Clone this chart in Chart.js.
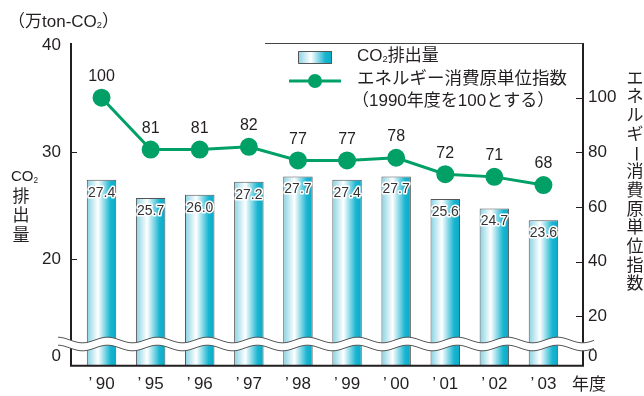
<!DOCTYPE html>
<html>
<head>
<meta charset="utf-8">
<script src="https://cdn.jsdelivr.net/npm/chart.js@4.4.0/dist/chart.umd.min.js"></script>
<style>
  html, body { margin: 0; padding: 0; background: #fff; }
  canvas { display: block; }
</style>
</head>
<body>
<canvas id="chart" width="644" height="396"></canvas>
<script>
// data
const years = ['’\u200990', '’\u200995', '’\u200996', '’\u200997', '’\u200998', '’\u200999', '’\u200900', '’\u200901', '’\u200902', '’\u200903'];
const co2 = [27.4, 25.7, 26.0, 27.2, 27.7, 27.4, 27.7, 25.6, 24.7, 23.6];
const energyIndex = [100, 81, 81, 82, 77, 77, 78, 72, 71, 68];
const co2Ticks = [0, 20, 30, 40];
const indexTicks = [0, 20, 40, 60, 80, 100];

// both axes are cut: "0" is drawn just under the break, above the axis floor
const co2Min = 10, co2Max = 40, co2ZeroAt = 10.93;
const idxMin = 1.8, idxMax = 119.3, idxZeroAt = 5.4;
const BAR_PCT = 0.6;

const FONT = '"Liberation Sans", "Noto Sans CJK JP", sans-serif';
const INK = '#231f20';
const GREEN = '#00a066';

Chart.defaults.font.family = FONT;
Chart.defaults.color = INK;

function barGradient(ctx, x0, x1) {
  const g = ctx.createLinearGradient(x0, 0, x1, 0);
  g.addColorStop(0, '#86d2e3');
  g.addColorStop(0.38, '#ffffff');
  g.addColorStop(0.8, '#19b5d1');
  g.addColorStop(1, '#08aac8');
  return g;
}

// each bar gets its own horizontal gradient
function barFill(c) {
  const ch = c.chart;
  if (!ch.chartArea || !ch.scales.x) return '#5cc6dc';
  const x = ch.scales.x.getPixelForValue(c.dataIndex);
  const w = ch.chartArea.width / years.length * BAR_PCT;
  return barGradient(ch.ctx, x - w / 2, x + w / 2);
}

// text with a small lowered "2" etc.
function drawParts(ctx, parts, x, y, size) {
  ctx.textAlign = 'left';
  ctx.textBaseline = 'middle';
  parts.forEach(p => {
    if (p.sub) {
      ctx.font = (size * 0.55) + 'px ' + FONT;
      ctx.fillText(p.t, x, y + size * 0.22);
    } else {
      ctx.font = size + 'px ' + FONT;
      ctx.fillText(p.t, x, y);
    }
    x += ctx.measureText(p.t).width;
  });
}

function drawVertical(ctx, chars, x, y, step, size) {
  ctx.font = size + 'px ' + FONT;
  ctx.textAlign = 'center';
  ctx.textBaseline = 'middle';
  chars.forEach((c, i) => {
    const cy = y + i * step;
    if (c === 'ー') {
      ctx.save();
      ctx.translate(x, cy);
      ctx.rotate(Math.PI / 2);
      ctx.fillText(c, 0, 0);
      ctx.restore();
    } else {
      ctx.fillText(c, x, cy);
    }
  });
}

function wave(x0, x1, y, amp, period, reverse) {
  const pts = [];
  for (let x = x0; x <= x1; x++) pts.push([x, y + amp * Math.sin((x - 20) / period * 2 * Math.PI)]);
  if (reverse) pts.reverse();
  return pts;
}

const decor = {
  id: 'decor',
  afterDatasetsDraw(chart) {
    const ctx = chart.ctx;
    const area = chart.chartArea;
    const yL = chart.scales.y, yR = chart.scales.y1;
    const axL = area.left - 6, axR = area.right + 15, top = 43, floor = area.bottom;

    // axis frame
    ctx.save();
    ctx.strokeStyle = INK;
    ctx.lineWidth = 2;
    ctx.beginPath();
    ctx.moveTo(axL, top); ctx.lineTo(axL, floor); ctx.lineTo(axR, floor); ctx.lineTo(axR, top);
    ctx.stroke();
    ctx.lineWidth = 1;
    ctx.strokeStyle = '#444';
    ctx.beginPath();
    ctx.moveTo(265, top + 0.5); ctx.lineTo(axR, top + 0.5);
    ctx.stroke();

    // inward tick marks
    ctx.strokeStyle = INK;
    ctx.lineWidth = 1.2;
    ctx.beginPath();
    [20, 30].forEach(v => {
      const y = Math.round(yL.getPixelForValue(v)) + 0.5;
      ctx.moveTo(axL, y); ctx.lineTo(axL + 6, y);
    });
    [20, 40, 60, 80, 100].forEach(v => {
      const y = Math.round(yR.getPixelForValue(v)) + 0.5;
      ctx.moveTo(axR - 7, y); ctx.lineTo(axR, y);
    });
    ctx.stroke();

    // axis break band
    const a = wave(58, 594, 340, 2.8, 50, false);
    const b = wave(58, 594, 348, 2.8, 50, true);
    ctx.fillStyle = '#fff';
    ctx.beginPath();
    a.concat(b).forEach((p, i) => i ? ctx.lineTo(p[0], p[1]) : ctx.moveTo(p[0], p[1]));
    ctx.closePath();
    ctx.fill();
    ctx.strokeStyle = '#555';
    ctx.lineWidth = 1;
    [a, b].forEach(line => {
      ctx.beginPath();
      line.forEach((p, i) => i ? ctx.lineTo(p[0], p[1]) : ctx.moveTo(p[0], p[1]));
      ctx.stroke();
    });

    // value labels on bars
    ctx.font = '14px ' + FONT;
    ctx.textAlign = 'center';
    ctx.textBaseline = 'middle';
    ctx.lineJoin = 'round';
    chart.getDatasetMeta(0).data.forEach((bar, i) => {
      const txt = co2[i].toFixed(1);
      ctx.strokeStyle = '#fff';
      ctx.lineWidth = 3;
      ctx.strokeText(txt, bar.x, bar.y + 13);
      ctx.fillStyle = '#333';
      ctx.fillText(txt, bar.x, bar.y + 13);
    });

    // index labels above points
    ctx.font = '16px ' + FONT;
    ctx.fillStyle = INK;
    chart.getDatasetMeta(1).data.forEach((pt, i) => {
      ctx.fillText(String(energyIndex[i]), pt.x, pt.y - 21);
    });

    // titles
    ctx.fillStyle = INK;
    drawParts(ctx, [{t: '（万ton-CO'}, {t: '2', sub: true}, {t: '）'}], 8, 22, 17);
    drawParts(ctx, [{t: 'CO'}, {t: '2', sub: true}], 11, 177, 15);
    drawVertical(ctx, ['排', '出', '量'], 21, 197, 19.5, 17);
    drawVertical(ctx, 'エネルギー消費原単位指数'.split(''), 635, 79, 18.7, 17);
    ctx.font = '17px ' + FONT;
    ctx.textAlign = 'left';
    ctx.fillText('年度', 572, 385);

    // legend
    ctx.fillStyle = barGradient(ctx, 298, 332);
    ctx.fillRect(298, 51, 34, 13);
    ctx.strokeStyle = '#555';
    ctx.lineWidth = 1;
    ctx.strokeRect(298.5, 51.5, 33, 12);
    ctx.strokeStyle = GREEN;
    ctx.lineWidth = 3;
    ctx.beginPath();
    ctx.moveTo(289, 81); ctx.lineTo(341, 81);
    ctx.stroke();
    ctx.fillStyle = GREEN;
    ctx.beginPath();
    ctx.arc(315, 81, 7, 0, Math.PI * 2);
    ctx.fill();
    ctx.fillStyle = INK;
    drawParts(ctx, [{t: 'CO'}, {t: '2', sub: true}, {t: '排出量'}], 357, 56, 17);
    drawParts(ctx, [{t: 'エネルギー消費原単位指数'}], 357, 79, 17.5);
    drawParts(ctx, [{t: '（1990年度を100とする）'}], 352, 101, 17);
    ctx.restore();
  }
};

new Chart(document.getElementById('chart'), {
  data: {
    labels: years,
    datasets: [
      {
        type: 'bar',
        label: 'CO2排出量',
        data: co2,
        yAxisID: 'y',
        borderColor: '#555',
        borderWidth: 1,
        borderSkipped: 'bottom',
        backgroundColor: barFill,
        categoryPercentage: 1,
        barPercentage: BAR_PCT,
        order: 2
      },
      {
        type: 'line',
        label: 'エネルギー消費原単位指数',
        data: energyIndex,
        yAxisID: 'y1',
        borderColor: GREEN,
        borderWidth: 3,
        backgroundColor: GREEN,
        pointBackgroundColor: GREEN,
        pointBorderColor: GREEN,
        pointRadius: 7.5,
        tension: 0,
        order: 1
      }
    ]
  },
  options: {
    responsive: false,
    animation: false,
    devicePixelRatio: 1,
    layout: { padding: { top: 45, left: 0, right: 0, bottom: 0 } },
    plugins: {
      legend: { display: false },
      tooltip: { enabled: false }
    },
    scales: {
      x: {
        grid: { display: false },
        border: { display: false },
        ticks: { font: { size: 17 }, color: INK, padding: 0, maxRotation: 0 },
        afterFit(s) { s.height = 28; }
      },
      y: {
        position: 'left',
        min: co2Min,
        max: co2Max,
        grid: { display: false, drawTicks: false },
        border: { display: false },
        afterBuildTicks(s) { s.ticks = co2Ticks.map(v => ({ value: v === 0 ? co2ZeroAt : v })); },
        ticks: {
          font: { size: 17 }, color: INK, padding: 16,
          callback: (v, i) => String(co2Ticks[i])
        },
        afterFit(s) { s.width = 77; }
      },
      y1: {
        position: 'right',
        min: idxMin,
        max: idxMax,
        grid: { display: false, drawTicks: false },
        border: { display: false },
        afterBuildTicks(s) { s.ticks = indexTicks.map(v => ({ value: v === 0 ? idxZeroAt : v })); },
        ticks: {
          font: { size: 17 }, color: INK, padding: 20,
          callback: (v, i) => String(indexTicks[i])
        },
        afterFit(s) { s.width = 76; }
      }
    }
  },
  plugins: [decor]
});
</script>
</body>
</html>
